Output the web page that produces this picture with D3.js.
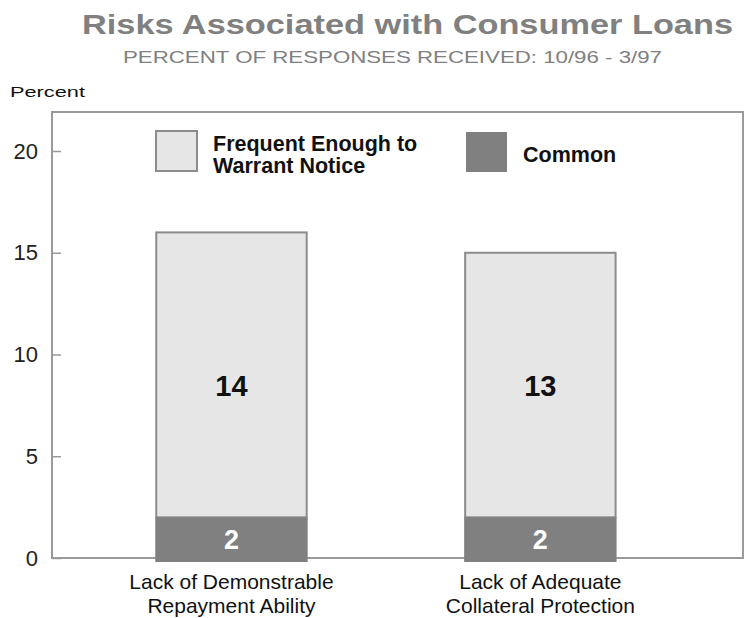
<!DOCTYPE html>
<html>
<head>
<meta charset="utf-8">
<script src="https://cdn.jsdelivr.net/npm/d3@7"></script>
<style>
  body { margin: 0; background: #fff; }
  svg { font-family: "Liberation Sans", Arial, sans-serif; }
</style>
</head>
<body>
<svg id="chart" width="746" height="618"></svg>
<script>
// Data
let categories = [["Lack of Demonstrable", "Repayment Ability"], ["Lack of Adequate", "Collateral Protection"]];
let common = [2, 2];
let frequent = [14, 13];
let seriesNames = [["Frequent Enough to", "Warrant Notice"], ["Common"]];
let yTicks = [0, 5, 10, 15, 20];

let margin = {top: 112, bottom: 60, left: 52, right: 3};
let svgWidth = 746;
let svgHeight = 618;
let viewWidth = svgWidth - margin.left - margin.right;
let viewHeight = 558 - margin.top;

let lightFill = "#e6e6e6";
let darkFill = "#808080";
let edge = "#8c8c8c";

let svg = d3.select("#chart");

// Titles (the original face is wider than Liberation, so stretch to match)
svg.append("text")
    .attr("x", 82).attr("y", 34)
    .attr("font-size", 28.5).attr("font-weight", "bold")
    .attr("fill", "#808080")
    .attr("textLength", 651).attr("lengthAdjust", "spacingAndGlyphs")
    .text("Risks Associated with Consumer Loans");
svg.append("text")
    .attr("x", 123).attr("y", 63)
    .attr("font-size", 16.5)
    .attr("fill", "#808080")
    .attr("textLength", 539).attr("lengthAdjust", "spacingAndGlyphs")
    .text("PERCENT OF RESPONSES RECEIVED:  10/96 - 3/97");
svg.append("text")
    .attr("x", 10).attr("y", 97)
    .attr("font-size", 14)
    .attr("fill", "#111")
    .attr("textLength", 75).attr("lengthAdjust", "spacingAndGlyphs")
    .text("Percent");

let view = svg.append("g")
    .attr("transform", `translate(${margin.left},${margin.top})`);

// y = 0 sits at the frame bottom, y = 20 at ~151px
let yScale = d3.scaleLinear()
    .domain([0, 20])
    .range([viewHeight, 151 - margin.top]);

let xScale = d3.scaleBand()
    .domain(d3.range(categories.length))
    .range([0, viewWidth])
    .paddingInner(0.513)
    .paddingOuter(0.375)
    .align(0.45);

// Frame
view.append("rect")
    .attr("x", 0).attr("y", 0)
    .attr("width", viewWidth).attr("height", viewHeight)
    .attr("fill", "none")
    .attr("stroke", "#9a9a9a")
    .attr("stroke-width", 2);

// Y axis with inward ticks
let yAxis = view.append("g")
    .call(d3.axisRight(yScale).tickValues(yTicks).tickSize(9).tickFormat(d3.format("d")));
yAxis.select(".domain").remove();
yAxis.selectAll(".tick line").attr("stroke", "#9a9a9a").attr("stroke-width", 1.5);
yAxis.selectAll(".tick text")
    .attr("x", -14)
    .attr("text-anchor", "end")
    .attr("font-size", 22)
    .attr("fill", "#222");

// Bars: common (bottom), frequent (top)
let bw = xScale.bandwidth();
view.selectAll(".bar-freq")
    .data(frequent)
    .join("rect")
    .attr("x", (d, i) => xScale(i))
    .attr("y", (d, i) => yScale(common[i] + d))
    .attr("width", bw)
    .attr("height", (d, i) => yScale(common[i]) - yScale(common[i] + d))
    .attr("fill", lightFill)
    .attr("stroke", edge)
    .attr("stroke-width", 2);

view.selectAll(".bar-common")
    .data(common)
    .join("rect")
    .attr("x", (d, i) => xScale(i) - 1)
    .attr("y", d => yScale(d))
    .attr("width", bw + 2)
    .attr("height", d => yScale(0) - yScale(d) + 4)
    .attr("fill", darkFill);

// Value labels share one row, centred in the shorter segment
let labelLevel = d3.min(frequent, (d, i) => common[i] + d / 2);
view.selectAll(".lab-freq")
    .data(frequent)
    .join("text")
    .attr("x", (d, i) => xScale(i) + bw / 2)
    .attr("y", yScale(labelLevel) + 11)
    .attr("text-anchor", "middle")
    .attr("font-size", 29).attr("font-weight", "bold")
    .attr("fill", "#111")
    .text(d => d);

view.selectAll(".lab-common")
    .data(common)
    .join("text")
    .attr("x", (d, i) => xScale(i) + bw / 2)
    .attr("y", d => yScale(d / 2) + 11)
    .attr("text-anchor", "middle")
    .attr("font-size", 27).attr("font-weight", "bold")
    .attr("fill", "#fff")
    .text(d => d);

// Category labels
let catLabels = view.selectAll(".cat")
    .data(categories)
    .join("text")
    .attr("x", (d, i) => xScale(i) + bw / 2)
    .attr("y", viewHeight + 31)
    .attr("text-anchor", "middle")
    .attr("font-size", 21)
    .attr("fill", "#111");
catLabels.selectAll("tspan")
    .data(d => d)
    .join("tspan")
    .attr("x", function() { return this.parentNode.getAttribute("x"); })
    .attr("dy", (d, j) => j === 0 ? 0 : 24)
    .text(d => d);

// Legend
let legend = [
    {x: 156, y: 131, fill: lightFill, stroke: edge, lines: seriesNames[0]},
    {x: 466, y: 132, fill: darkFill, stroke: "none", lines: seriesNames[1]}
];
legend.forEach(l => {
    svg.append("rect")
        .attr("x", l.x).attr("y", l.y)
        .attr("width", 41).attr("height", 40)
        .attr("fill", l.fill)
        .attr("stroke", l.stroke)
        .attr("stroke-width", 2);
    let t = svg.append("text")
        .attr("font-size", 21.5).attr("font-weight", "bold")
        .attr("fill", "#111");
    l.lines.forEach((s, j) => {
        t.append("tspan")
            .attr("x", l.x + 57)
            .attr("y", l.lines.length === 1 ? l.y + 30 : l.y + 20 + j * 22)
            .text(s);
    });
});
</script>
</body>
</html>
